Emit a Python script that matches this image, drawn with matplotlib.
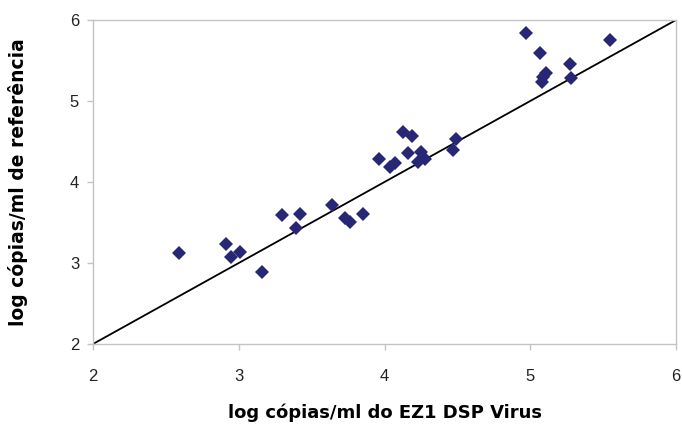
import matplotlib.pyplot as plt

# log copies/ml: EZ1 DSP Virus (x) vs reference method (y)
ez1 = [2.59, 2.91, 2.95, 3.01, 3.16, 3.30, 3.42, 3.39, 3.64, 3.73, 3.76, 3.85,
       3.96, 4.04, 4.07, 4.13, 4.19, 4.16, 4.25, 4.28, 4.23, 4.49, 4.47,
       4.97, 5.07, 5.27, 5.28, 5.11, 5.09, 5.08, 5.55]
ref = [3.12, 3.24, 3.08, 3.14, 2.89, 3.59, 3.61, 3.43, 3.71, 3.56, 3.51, 3.61,
       4.28, 4.19, 4.24, 4.62, 4.57, 4.36, 4.37, 4.28, 4.25, 4.53, 4.40,
       5.84, 5.59, 5.46, 5.28, 5.34, 5.29, 5.24, 5.75]
ticks = [2, 3, 4, 5, 6]

fig = plt.figure(figsize=(6.82, 4.28), dpi=100)
ax = fig.add_axes([0.1364, 0.1963, 0.8548, 0.757])

# identity line y = x
ax.plot([2, 6], [2, 6], color='black', lw=1.3, zorder=2)
ax.plot(ez1, ref, linestyle='none', marker='D', markersize=6.8,
        color='#272775', markeredgewidth=0, zorder=3)

ax.set_xlim(2, 6)
ax.set_ylim(2, 6)
ax.set_xticks(ticks)
ax.set_yticks(ticks)

for s in ax.spines.values():
    s.set_color('#c4c4c4')
    s.set_linewidth(1.0)

ax.tick_params(axis='both', colors='#c4c4c4', length=4, width=1.0,
               labelcolor='#222222', labelsize=12)
ax.tick_params(axis='x', pad=14)
ax.tick_params(axis='y', pad=6)
for lbl in ax.get_xticklabels() + ax.get_yticklabels():
    lbl.set_family('Liberation Sans')

ax.set_xlabel('log cópias/ml do EZ1 DSP Virus', fontsize=13,
              fontweight='bold', labelpad=14, family='DejaVu Sans')
ax.set_ylabel('log cópias/ml de referência', fontsize=13.5,
              fontweight='bold', labelpad=30, family='DejaVu Sans')

fig.savefig('out.png', dpi=100)
